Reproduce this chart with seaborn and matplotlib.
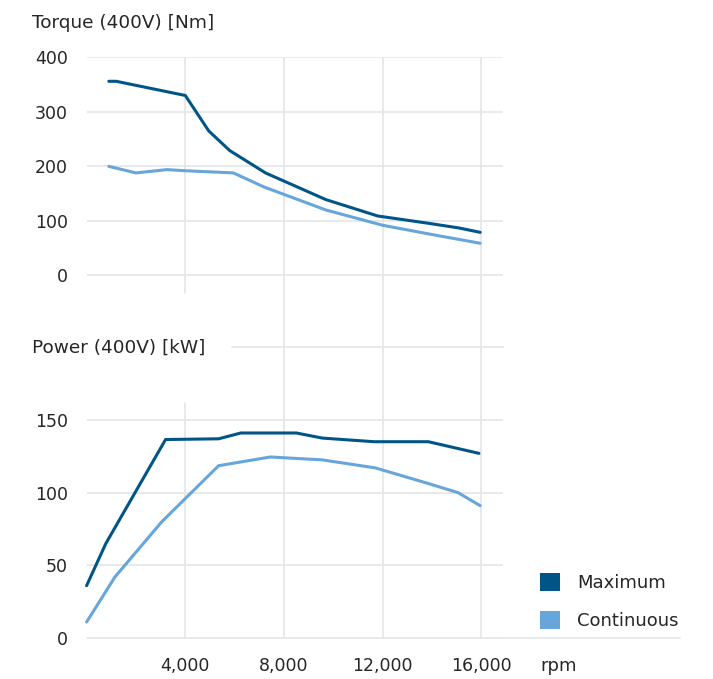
import pandas as pd
import seaborn as sns
import matplotlib
matplotlib.use('Agg')
import matplotlib.pyplot as plt
from matplotlib.patches import Patch

# Values (rpm vs torque / power at 400 V)
torque_max_rpm = [900, 1200, 4000, 4950, 5800, 7250, 9700, 11800, 13800, 15100, 15950]
torque_max = [356, 356, 330, 265, 229, 188, 139, 109, 96, 87, 79]
torque_cont_rpm = [900, 2000, 3250, 4000, 5950, 7200, 9700, 12000, 14000, 15950]
torque_cont = [200, 188, 194, 192, 188, 162, 120, 92, 75, 59]

power_max_rpm = [0, 780, 3200, 5350, 6250, 8500, 9550, 11650, 13850, 15900]
power_max = [36, 65, 136.5, 137, 141, 141, 137.5, 135, 135, 127]
power_cont_rpm = [0, 1150, 3050, 5350, 7450, 9550, 11700, 13800, 15050, 15950]
power_cont = [11, 42, 80, 118.5, 124.5, 122.5, 117, 106.5, 100, 91]

curve_names = ['Maximum', 'Continuous']
x_ticks = [4000, 8000, 12000, 16000]
x_labels = ['4,000', '8,000', '12,000', '16,000']
torque_ticks = [0, 100, 200, 300, 400]
power_ticks = [0, 50, 100, 150]

DARK = '#005587'
LIGHT = '#66a6db'
GRID = '#e5e7ea'
TEXT = '#262626'
palette = {'Maximum': DARK, 'Continuous': LIGHT}

torque_df = pd.concat([
    pd.DataFrame({'rpm': torque_max_rpm, 'value': torque_max, 'curve': 'Maximum'}),
    pd.DataFrame({'rpm': torque_cont_rpm, 'value': torque_cont, 'curve': 'Continuous'}),
])
power_df = pd.concat([
    pd.DataFrame({'rpm': power_max_rpm, 'value': power_max, 'curve': 'Maximum'}),
    pd.DataFrame({'rpm': power_cont_rpm, 'value': power_cont, 'curve': 'Continuous'}),
])

sns.set_style('white')
plt.rcParams['font.family'] = ['DejaVu Sans']
plt.rcParams['text.color'] = TEXT
plt.rcParams['xtick.color'] = TEXT
plt.rcParams['ytick.color'] = TEXT

W, H = 713, 679
fig = plt.figure(figsize=(W / 100, H / 100), dpi=100)

XMAX = 16876
# axes positions in pixels -> figure fractions
left, right = 86.6, 503.0
ax_t = fig.add_axes([left / W, 1 - 347.2 / H, (right - left) / W, (347.2 - 57.3) / H])
ax_b = fig.add_axes([left / W, 1 - 638.0 / H, (right - left) / W, (638.0 - 347.2) / H])

sns.lineplot(data=torque_df, x='rpm', y='value', hue='curve', palette=palette,
             estimator=None, linewidth=2.2, legend=False, ax=ax_t)
sns.lineplot(data=power_df, x='rpm', y='value', hue='curve', palette=palette,
             estimator=None, linewidth=2.2, legend=False, ax=ax_b)
for ax in (ax_t, ax_b):
    for ln in ax.lines:
        ln.set_clip_on(False)

T_LOW = -131.6
ax_t.set_xlim(0, XMAX)
ax_t.set_ylim(T_LOW, 400)
ax_b.set_xlim(0, XMAX)
ax_b.set_ylim(0, 200)

for ax in (ax_t, ax_b):
    ax.set_xlabel('')
    ax.set_ylabel('')
    for s in ax.spines.values():
        s.set_visible(False)
    ax.tick_params(length=0, labelsize=12.5)
    ax.set_axisbelow(True)
    ax.grid(axis='y', color=GRID, linewidth=1.3, zorder=0)
    ax.grid(axis='x', visible=False)

ax_t.set_yticks(torque_ticks)
ax_t.set_xticks(x_ticks)
ax_t.set_xticklabels([])
ax_t.tick_params(axis='y', pad=13.5)

ax_b.set_yticks(power_ticks)
ax_b.set_xticks(x_ticks)
ax_b.set_xticklabels(x_labels)
ax_b.tick_params(axis='y', pad=13.5)
ax_b.tick_params(axis='x', pad=14)

# vertical grid lines (the 4,000 line is interrupted between the panels)
t_frac = (-32.5 - T_LOW) / (400 - T_LOW)
for xv in x_ticks:
    ax_t.axvline(xv, ymin=t_frac if xv == 4000 else 0, ymax=1,
                 color=GRID, linewidth=1.3, zorder=0)
    ax_b.axvline(xv, ymin=0, ymax=0.809 if xv == 4000 else 1,
                 color=GRID, linewidth=1.3, zorder=0)

# 200 kW line hidden behind the panel title, 0 line runs under the legend
ax_b.axhline(200, xmin=5880 / XMAX, xmax=1, color=GRID, linewidth=1.3, zorder=0,
             clip_on=False)
ax_b.axhline(0, xmin=0, xmax=(680 - left) / (right - left), color=GRID,
             linewidth=1.3, zorder=0, clip_on=False)

fig.text(32 / W, 1 - 23 / H, 'Torque (400V) [Nm]', fontsize=13.3, ha='left', va='center')
fig.text(32 / W, 1 - 348 / H, 'Power (400V) [kW]', fontsize=13.3, ha='left', va='center')
ax_b.text((540 - left) / (right - left), -(666 - 638) / 290.8, 'rpm', fontsize=13,
          ha='left', va='center', transform=ax_b.transAxes)

handles = [Patch(facecolor=palette[c], edgecolor='none') for c in curve_names]
fig.legend(handles, curve_names, loc='upper left', bbox_to_anchor=(540 / W, 1 - 573 / H),
           frameon=False, fontsize=13, handlelength=1.12, handleheight=1.12,
           handletextpad=0.95, labelspacing=1.08, borderpad=0, borderaxespad=0)

fig.savefig('out.png', dpi=100, facecolor='white')
